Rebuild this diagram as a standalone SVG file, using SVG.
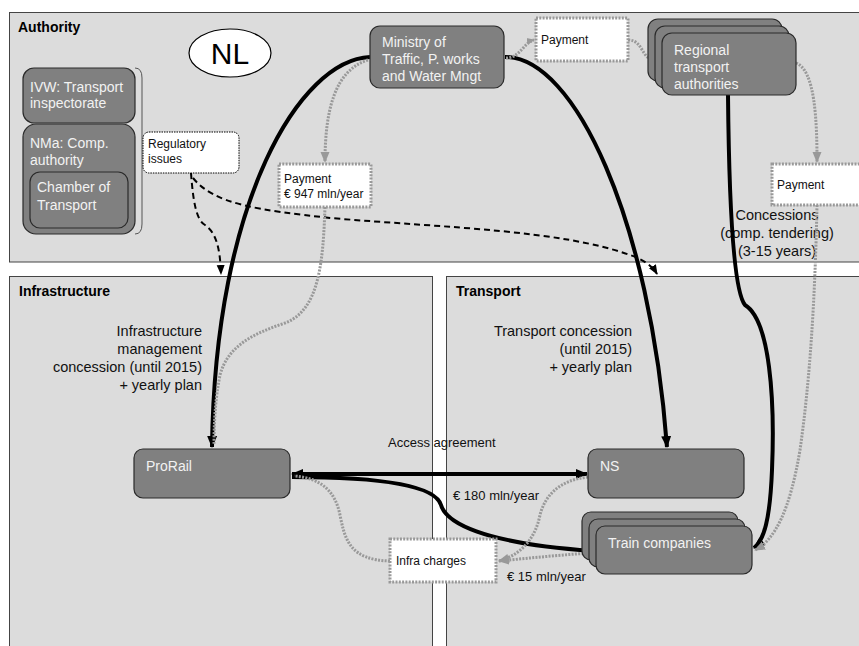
<svg xmlns="http://www.w3.org/2000/svg" width="859" height="646" viewBox="0 0 859 646">
<style>
.panel{fill:#dcdcdc;stroke:#444;stroke-width:1}
.ptitle{font-family:"Liberation Sans",Arial,sans-serif;font-size:14px;font-weight:bold;fill:#000}
.node{fill:#808080;stroke:#2a2a2a;stroke-width:1.2}
.ntext{font-family:"Liberation Sans",Arial,sans-serif;font-size:14px;fill:#f2f2f2}
.lbl{font-family:"Liberation Sans",Arial,sans-serif;font-size:14.5px;fill:#111}
.lbl13{font-family:"Liberation Sans",Arial,sans-serif;font-size:13px;fill:#111}
.small{font-family:"Liberation Sans",Arial,sans-serif;font-size:12px;fill:#111}
.gbox{fill:#fff;stroke:#999;stroke-width:3;stroke-dasharray:2 1.3}
.thick{fill:none;stroke:#000;stroke-width:4}
.dash{fill:none;stroke:#000;stroke-width:2;stroke-dasharray:6 4}
.dot{fill:none;stroke:#999;stroke-width:3;stroke-dasharray:2 1.3}
</style>
<defs>
<marker id="ab" markerUnits="userSpaceOnUse" markerWidth="12" markerHeight="12" refX="11" refY="6" orient="auto-start-reverse" viewBox="0 0 12 12"><path d="M0,1 L12,6 L0,11 z" fill="#000"/></marker>
<marker id="abs" markerUnits="userSpaceOnUse" markerWidth="10" markerHeight="10" refX="9" refY="5" orient="auto" viewBox="0 0 10 10"><path d="M0,1 L10,5 L0,9 z" fill="#000"/></marker>
<marker id="ag" markerUnits="userSpaceOnUse" markerWidth="11" markerHeight="11" refX="10" refY="5.5" orient="auto" viewBox="0 0 11 11"><path d="M0,1 L11,5.5 L0,10 z" fill="#999"/></marker>
<marker id="ags" markerUnits="userSpaceOnUse" markerWidth="8" markerHeight="8" refX="7" refY="4" orient="auto" viewBox="0 0 8 8"><path d="M0,0.5 L8,4 L0,7.5 z" fill="#999"/></marker>
</defs>
<rect width="859" height="646" fill="#fff"/>

<g id="panels">
<rect class="panel" x="9.5" y="12.5" width="860" height="249.5"/>
<rect class="panel" x="9.5" y="276.5" width="423" height="380"/>
<rect class="panel" x="446.5" y="276.5" width="420" height="380"/>
<text class="ptitle" x="18" y="32">Authority</text>
<text class="ptitle" x="19" y="296">Infrastructure</text>
<text class="ptitle" x="456" y="296">Transport</text>
</g>

<g id="labels">
<g id="nl"><ellipse cx="230" cy="53" rx="41" ry="24" fill="#fff" stroke="#000" stroke-width="1.2"/>
<text x="230" y="64" text-anchor="middle" font-family="Liberation Sans, Arial, sans-serif" font-size="30">NL</text></g>
<path d="M135,68 Q142,68 142,78 L142,224 Q142,234 135,234" fill="none" stroke="#555" stroke-width="1"/>
<text class="lbl" text-anchor="end"><tspan x="202" y="336">Infrastructure</tspan><tspan x="202" y="354">management</tspan><tspan x="202" y="372">concession (until 2015)</tspan><tspan x="202" y="390">+ yearly plan</tspan></text>
<text class="lbl" text-anchor="end"><tspan x="632" y="336">Transport concession</tspan><tspan x="632" y="354">(until 2015)</tspan><tspan x="632" y="372">+ yearly plan</tspan></text>
<text class="lbl" font-size="13.5" text-anchor="middle"><tspan x="777" y="220">Concessions</tspan><tspan x="777" y="238">(comp. tendering)</tspan><tspan x="777" y="256">(3-15 years)</tspan></text>
<text class="lbl13" x="388" y="447">Access agreement</text>
<text class="lbl13" x="453" y="500">€ 180 mln/year</text>
<text class="lbl13" x="507" y="581">€ 15 mln/year</text>
</g>

<g id="connectors">
<path class="thick" d="M370,57 C300,60 215,200 212,447" marker-end="url(#ab)"/>
<path class="thick" d="M505,57 C575,57 650,220 667,447" marker-end="url(#ab)"/>
<path class="thick" stroke-width="3.5" d="M728,95 C729,200 733,290 745,305 C770,320 775,400 772,470 C770,520 764,540 754,548" marker-end="url(#ab)"/>
<path class="thick" d="M292,474 L587,474" marker-start="url(#ab)" marker-end="url(#ab)"/>
<path class="thick" stroke-width="3.5" d="M292,477 C380,477 435,485 441,505 C446,522 480,543 592,551" marker-end="url(#abs)"/>
<path class="dash" d="M191,173 C193,200 196,220 205,225 C215,232 220,245 221,274" marker-end="url(#abs)"/>
<path class="dash" d="M193,178 C215,205 260,210 330,218 C450,228 560,230 630,255 Q650,262 657,274" marker-end="url(#abs)"/>
<path class="dot" d="M368,60 C335,70 325,110 325,162" marker-end="url(#ag)"/>
<path class="dot" d="M325,207 C323,260 320,310 285,323 C255,333 228,345 220,375 C215,400 214,425 214,445"/>
<path class="dot" d="M506,58 C520,58 524,42 534,40" marker-end="url(#ags)"/>
<path class="dot" d="M628,40 C645,40 640,62 660,62"/>
<path class="dot" d="M796,63 C815,70 817,120 817,162" marker-end="url(#ag)"/>
<path class="dot" d="M817,205 C815,300 810,380 800,450 C790,510 775,540 755,550" marker-end="url(#ag)"/>
<path class="dot" d="M588,477 C560,480 545,495 540,515 C535,540 520,555 499,561" marker-end="url(#ag)"/>
<path class="dot" d="M590,553 C560,555 530,558 499,561" marker-end="url(#ag)"/>
<path class="dot" d="M390,561 C350,560 345,540 340,515 C335,490 320,478 294,476"/>
</g>

<g id="ivw"><rect class="node" x="23" y="68" width="112" height="55" rx="11"/>
<text class="ntext"><tspan x="30" y="92">IVW: Transport</tspan><tspan x="30" y="108">inspectorate</tspan></text></g>
<g id="nma"><rect class="node" x="23" y="124" width="112" height="110" rx="13"/>
<text class="ntext"><tspan x="30" y="148">NMa: Comp.</tspan><tspan x="30" y="165">authority</tspan></text></g>
<g id="chamber"><rect class="node" x="30" y="172" width="98" height="56" rx="10"/>
<text class="ntext"><tspan x="37" y="192">Chamber of</tspan><tspan x="37" y="210">Transport</tspan></text></g>
<g id="regulatory"><rect x="143" y="132" width="96" height="41" rx="6" fill="#fff" stroke="#000" stroke-width="1" stroke-dasharray="1.5 1"/>
<text class="small"><tspan x="148" y="148">Regulatory</tspan><tspan x="148" y="163">issues</tspan></text></g>
<g id="ministry"><rect class="node" x="370" y="26" width="134" height="62" rx="10"/>
<text class="ntext"><tspan x="382" y="47">Ministry of</tspan><tspan x="382" y="64">Traffic, P. works</tspan><tspan x="382" y="81">and Water Mngt</tspan></text></g>
<g id="payment-top"><rect class="gbox" x="536" y="18" width="92" height="43"/>
<text class="small" x="541" y="44">Payment</text></g>
<g id="regional"><rect class="node" x="648" y="19" width="134" height="62" rx="10"/>
<rect class="node" x="655" y="26" width="134" height="62" rx="10"/>
<rect class="node" x="662" y="33" width="134" height="62" rx="10"/>
<text class="ntext"><tspan x="674" y="55">Regional</tspan><tspan x="674" y="72">transport</tspan><tspan x="674" y="89">authorities</tspan></text></g>
<g id="payment-947"><rect class="gbox" x="279" y="164" width="92" height="43"/>
<text class="small"><tspan x="284" y="183">Payment</tspan><tspan x="284" y="198">€ 947 mln/year</tspan></text></g>
<g id="payment-right"><rect class="gbox" x="772" y="164" width="100" height="41"/>
<text class="small" x="777" y="189">Payment</text></g>
<g id="prorail"><rect class="node" x="134" y="449" width="156" height="49" rx="9"/>
<text class="ntext" x="146" y="471">ProRail</text></g>
<g id="ns"><rect class="node" x="588" y="449" width="156" height="49" rx="9"/>
<text class="ntext" x="600" y="471">NS</text></g>
<g id="train"><rect class="node" x="582" y="512" width="156" height="48" rx="9"/>
<rect class="node" x="589" y="519" width="156" height="48" rx="9"/>
<rect class="node" x="596" y="526" width="156" height="48" rx="9"/>
<text class="ntext" x="608" y="548">Train companies</text></g>
<g id="infra-charges"><rect class="gbox" x="390" y="539" width="106" height="43"/>
<text class="small" x="396" y="565">Infra charges</text></g>
</svg>
